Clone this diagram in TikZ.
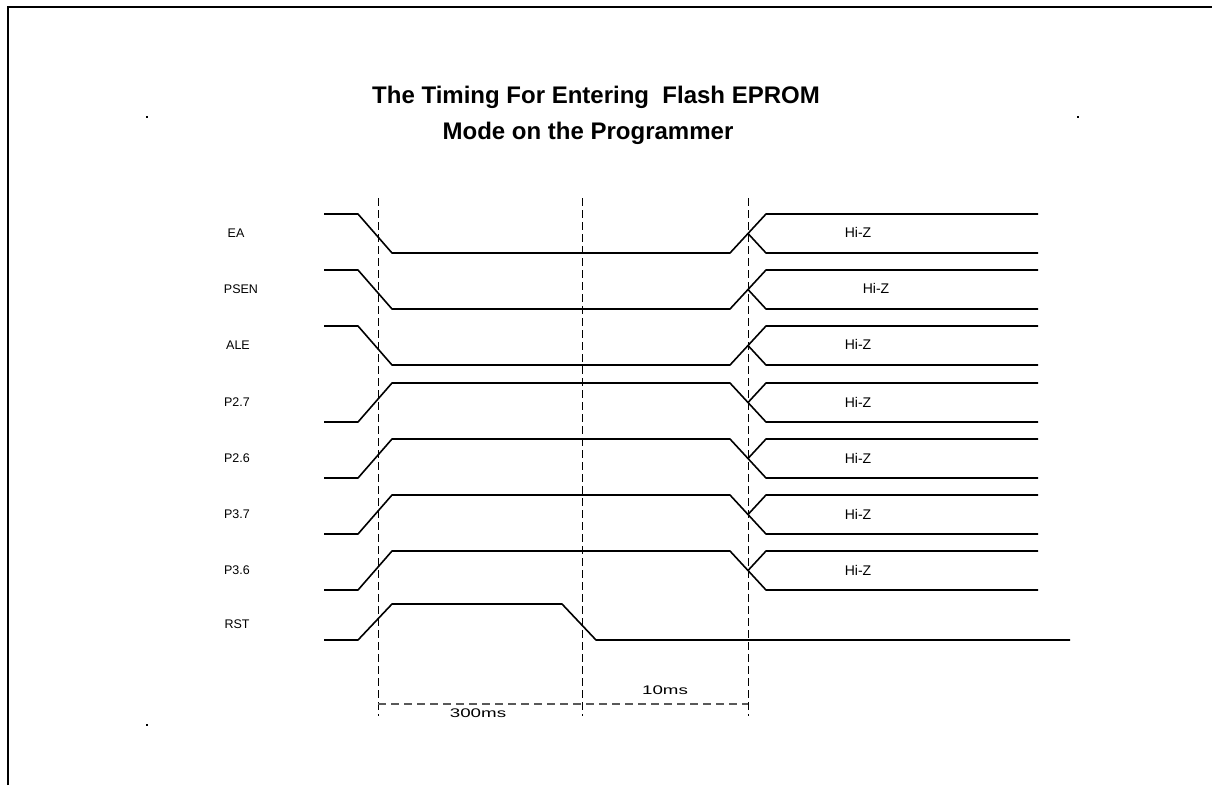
\documentclass[tikz,border=0pt]{standalone}
\usepackage{fontspec}
\setmainfont{Liberation Sans}
\begin{document}
\begin{tikzpicture}[x=1pt,y=-1pt,
  wave/.style={line width=1.6pt,line join=round},
  guide/.style={line width=0.9pt,dash pattern=on 8pt off 4pt},
  span/.style={line width=1.2pt,gray!70!black,dash pattern=on 8pt off 5pt},
  sig/.style={font=\fontsize{12.5}{14}\selectfont},
  hiz/.style={font=\fontsize{14}{16}\selectfont},
  dur/.style={font=\fontsize{12.5}{14}\selectfont,xscale=1.5},
  ttl/.style={font=\bfseries\fontsize{24}{28}\selectfont}]
\useasboundingbox (0,0) rectangle (1212,785);
\fill[white] (0,0) rectangle (1212,785);
% frame
\draw[line width=2pt] (8,785) -- (8,7) -- (1212,7);
\fill (146,116) rectangle (148,118);
\fill (1077,116) rectangle (1079,118);
\fill (146,724) rectangle (148,726);
% title
\node[ttl] (t1) at (596,97) {The Timing For Entering\ \ Flash EPROM};
\node[ttl] (t2) at (588,133) {Mode on the Programmer};
% guides
\coordinate (g1t) at (378,198); \coordinate (g1b) at (378,716);
\coordinate (g2t) at (582,198); \coordinate (g2b) at (582,716);
\coordinate (g3t) at (748,198); \coordinate (g3b) at (748,716);
\draw[guide] (g1t) -- (g1b);
\draw[guide] (g2t) -- (g2b);
\draw[guide] (g3t) -- (g3b);
\draw[span] (378,704) -- (748,704);
\node[dur] (l300) at (478,713) {300ms};
\node[dur] (l10) at (665,690) {10ms};
% falling-first signals (EA, PSEN, ALE)
\foreach \h/\name/\lx/\hx in {214/EA/236/858, 270/PSEN/241/876, 326/ALE/238/858}{
  \pgfmathsetmacro\l{\h+39}
  \pgfmathsetmacro\m{\h+19.5}
  \draw[wave] (324,\h) -- (358,\h) -- (392,\l) -- (730,\l) -- (766,\h) -- (1038,\h);
  \draw[wave] (748,\m) -- (766,\l) -- (1038,\l);
  \node[sig] at (\lx,\m) {\name};
  \node[hiz] at (\hx,\m-1.5) {Hi-Z};
}
% rising-first signals
\foreach \h/\name in {383/P2.7, 439/P2.6, 495/P3.7, 551/P3.6}{
  \pgfmathsetmacro\l{\h+39}
  \pgfmathsetmacro\m{\h+19.5}
  \draw[wave] (324,\l) -- (358,\l) -- (392,\h) -- (730,\h) -- (766,\l) -- (1038,\l);
  \draw[wave] (748,\m) -- (766,\h) -- (1038,\h);
  \node[sig] at (237,\m) {\name};
  \node[hiz] at (858,\m) {Hi-Z};
}
% RST
\draw[wave] (324,640) -- (358,640) -- (392,604) -- (562,604) -- (596,640) -- (1070,640);
\node[sig] (rst) at (237,624) {RST};
\end{tikzpicture}
\end{document}
